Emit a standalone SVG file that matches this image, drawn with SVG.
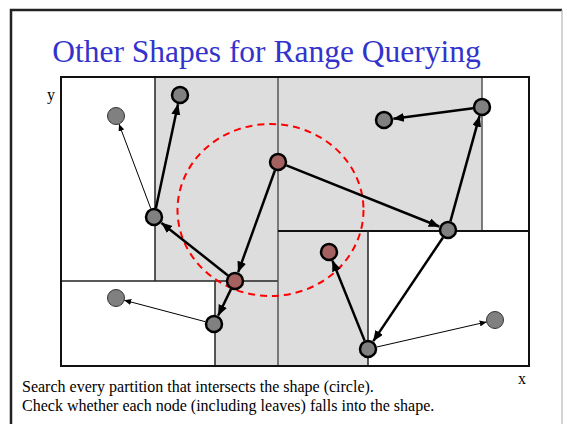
<svg xmlns="http://www.w3.org/2000/svg" width="567" height="424" viewBox="0 0 567 424">
<style>
.part{stroke:#222;stroke-width:1.5;fill:none}
.shade{fill:#dddddd;stroke:none}
.thick{stroke:#000;stroke-width:2.5;fill:none;marker-end:url(#ah)}
.thin{stroke:#000;stroke-width:1;fill:none;marker-end:url(#ahs)}
.node{fill:#808080;stroke:#000;stroke-width:2.5}
.hit{fill:#a56060;stroke:#000;stroke-width:2.5}
.leaf{fill:#808080;stroke:#333;stroke-width:1}
.serif{font-family:"Times New Roman","Liberation Serif","DejaVu Serif",serif}
.lbl{fill:#000;font-size:16px}
.title{fill:#3333cc;font-size:31.5px}
</style>
<defs>
<marker id="ah" markerUnits="userSpaceOnUse" markerWidth="12" markerHeight="10" refX="10.5" refY="4.5" orient="auto">
<path d="M0,0 L11,4.5 L0,9 z" fill="#000"/>
</marker>
<marker id="ahs" markerUnits="userSpaceOnUse" markerWidth="8" markerHeight="6" refX="7" refY="3" orient="auto">
<path d="M0,0 L7,3 L0,6 z" fill="#000"/>
</marker>
</defs>
<rect width="567" height="424" fill="#fff"/>
<path d="M11,424 L11,10 L562,10" fill="none" stroke="#222" stroke-width="2.5"/>
<line x1="562" y1="10" x2="562" y2="424" stroke="#aaa" stroke-width="1"/>
<text class="serif title" x="266.5" y="62" text-anchor="middle">Other Shapes for Range Querying</text>
<g id="partitions">
<rect class="shade" x="155" y="77" width="123" height="204"/>
<rect class="shade" x="215" y="281" width="63" height="85"/>
<rect class="shade" x="278" y="77" width="204" height="154"/>
<rect class="shade" x="278" y="231" width="90" height="135"/>
<line class="part" x1="155" y1="77" x2="155" y2="281"/>
<line class="part" x1="61" y1="281" x2="278" y2="281"/>
<line class="part" x1="215" y1="281" x2="215" y2="366"/>
<line x1="278" y1="77" x2="278" y2="366" stroke="#555" stroke-width="1.5"/>
<line x1="482" y1="77" x2="482" y2="231" stroke="#555" stroke-width="1.5"/>
<line x1="278" y1="231" x2="529" y2="231" stroke="#111" stroke-width="2"/>
<line class="part" x1="368" y1="231" x2="368" y2="366"/>
<rect x="61" y="77" width="468" height="289" fill="none" stroke="#111" stroke-width="2"/>
</g>
<ellipse id="query" cx="270.5" cy="210" rx="93" ry="86" fill="none" stroke="#ff0000" stroke-width="2" stroke-dasharray="7,5"/>
<g id="connectors">
<line class="thick" x1="274.9" y1="170.5" x2="238.2" y2="272.1"/>
<line class="thick" x1="286.4" y1="165.3" x2="439.2" y2="226.5"/>
<line class="thick" x1="227.9" y1="275.4" x2="161.5" y2="222.9"/>
<line class="thick" x1="231.0" y1="289.1" x2="218.2" y2="315.5"/>
<line class="thick" x1="155.9" y1="208.2" x2="178.0" y2="104.3"/>
<line class="thin" x1="150.8" y1="208.6" x2="119.0" y2="124.0"/>
<line class="thin" x1="205.3" y1="321.7" x2="124.2" y2="300.2"/>
<line class="thick" x1="450.4" y1="221.3" x2="479.5" y2="116.2"/>
<line class="thick" x1="473.1" y1="108.2" x2="393.4" y2="118.8"/>
<line class="thick" x1="443.0" y1="237.5" x2="373.3" y2="341.1"/>
<line class="thick" x1="364.6" y1="340.6" x2="332.5" y2="260.8"/>
<line class="thin" x1="376.8" y1="347.0" x2="486.7" y2="321.9"/>
</g>
<g id="nA"><circle class="leaf" cx="116" cy="116" r="8.5"/></g>
<g id="nB"><circle class="node" cx="180" cy="95" r="8"/></g>
<g id="nC"><circle class="hit" cx="278" cy="162" r="8"/></g>
<g id="nD"><circle class="node" cx="154" cy="217" r="8"/></g>
<g id="nE"><circle class="hit" cx="235" cy="281" r="8"/></g>
<g id="nF"><circle class="node" cx="214" cy="324" r="8"/></g>
<g id="nG"><circle class="leaf" cx="116" cy="298" r="8.5"/></g>
<g id="nH"><circle class="node" cx="384" cy="120" r="8"/></g>
<g id="nI"><circle class="node" cx="482" cy="107" r="8"/></g>
<g id="nJ"><circle class="node" cx="448" cy="230" r="8"/></g>
<g id="nK"><circle class="hit" cx="329" cy="252" r="8"/></g>
<g id="nL"><circle class="node" cx="368" cy="349" r="8"/></g>
<g id="nM"><circle class="leaf" cx="495" cy="320" r="8.5"/></g>
<text class="serif lbl" x="47" y="100">y</text>
<text class="serif lbl" x="518" y="384">x</text>
<text class="serif lbl" x="22" y="392">Search every partition that intersects the shape (circle).</text>
<text class="serif lbl" x="22" y="411">Check whether each node (including leaves) falls into the shape.</text>
</svg>
